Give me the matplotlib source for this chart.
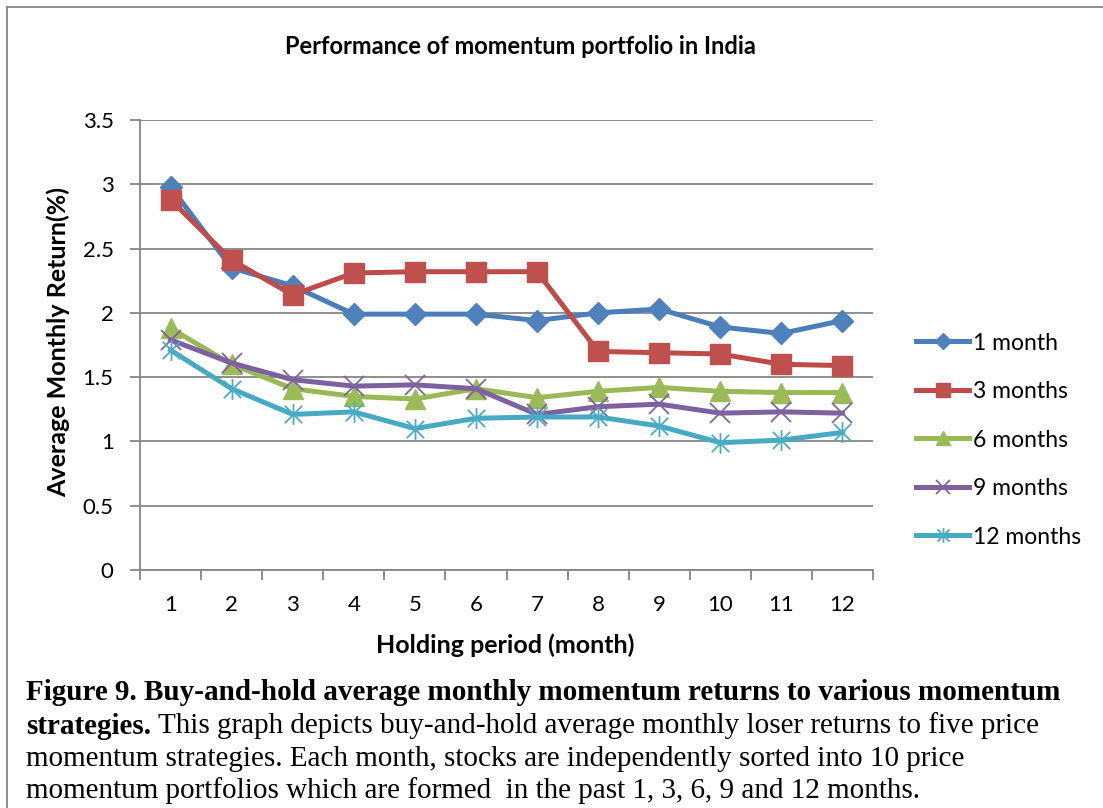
import numpy as np
import matplotlib.pyplot as plt
from matplotlib.lines import Line2D
from matplotlib.path import Path

# holding period (months) and the five momentum portfolio series
periods = list(range(1, 13))
ret_1m = [2.98, 2.35, 2.21, 1.99, 1.99, 1.99, 1.94, 2.00, 2.03, 1.89, 1.84, 1.94]
ret_3m = [2.88, 2.41, 2.14, 2.31, 2.32, 2.32, 2.32, 1.70, 1.69, 1.68, 1.60, 1.59]
ret_6m = [1.88, 1.60, 1.41, 1.35, 1.33, 1.41, 1.34, 1.39, 1.42, 1.39, 1.38, 1.38]
ret_9m = [1.79, 1.61, 1.48, 1.43, 1.44, 1.41, 1.21, 1.27, 1.29, 1.22, 1.23, 1.22]
ret_12m = [1.71, 1.41, 1.21, 1.23, 1.10, 1.18, 1.19, 1.19, 1.12, 0.99, 1.01, 1.07]
labels = ['1 month', '3 months', '6 months', '9 months', '12 months']
y_ticks = [0, 0.5, 1, 1.5, 2, 2.5, 3, 3.5]
y_tick_labels = ['0', '0.5', '1', '1.5', '2', '2.5', '3', '3.5']

W, H = 1103, 808
chart_font = 'Lato'
serif_font = 'Liberation Serif'

# excel style star marker: x plus vertical bar
star = Path([(-0.5, -0.5), (0.5, 0.5), (-0.5, 0.5), (0.5, -0.5), (0, -0.6), (0, 0.6)],
            [Path.MOVETO, Path.LINETO, Path.MOVETO, Path.LINETO, Path.MOVETO, Path.LINETO])

styles = [
    dict(color='#4A7EBB', marker='D', ms=11, mfc='#4F81BD', mec='#4F81BD'),
    dict(color='#BE4B48', marker='s', ms=14, mfc='#C0504D', mec='#C0504D'),
    dict(color='#98B954', marker='^', ms=14.5, mfc='#9BBB59', mec='#9BBB59'),
    dict(color='#7D60A0', marker='x', ms=14, mew=1.3, mec='#8064A2'),
    dict(color='#46AAC5', marker=star, ms=15, mew=1.3, mfc='none', mec='#4BACC6'),
]
series = [ret_1m, ret_3m, ret_6m, ret_9m, ret_12m]

fig = plt.figure(figsize=(W / 100, H / 100), dpi=100)
ax = fig.add_axes([140 / W, (H - 570) / H, 733 / W, 450 / H])

for vals, lab, st in zip(series, labels, styles):
    ax.plot(periods, vals, lw=3.6, label=lab, zorder=3, **st)

ax.set_xlim(0.5, 12.5)
ax.set_ylim(0, 3.5)
ax.set_yticks(y_ticks)
ax.set_yticklabels(y_tick_labels, fontfamily=chart_font, fontsize=16)
ax.set_xticks(periods)
ax.set_xticklabels([str(p) for p in periods], fontfamily=chart_font, fontsize=16)
ax.set_xticks(np.arange(0.5, 13, 1), minor=True)
ax.tick_params(axis='x', which='major', length=0, pad=18)
ax.tick_params(axis='x', which='minor', length=7, width=1.3, color='#868686', direction='out')
ax.tick_params(axis='y', length=7, width=1.3, color='#868686', direction='out', pad=12)
ax.grid(axis='y', color='#868686', lw=1.3, zorder=0)
ax.set_axisbelow(True)
for s in ['top', 'right']:
    ax.spines[s].set_visible(False)
for s in ['left', 'bottom']:
    ax.spines[s].set_color('#868686')
    ax.spines[s].set_linewidth(1.3)

fig.text(520 / W, 1 - 47 / H, 'Performance of momentum portfolio in India',
         fontfamily=chart_font, fontsize=17, fontweight='bold', ha='center', va='center')
fig.text(58 / W, 1 - 342 / H, 'Average Monthly Return(%)', rotation=90,
         fontfamily=chart_font, fontsize=18, fontweight='bold', ha='center', va='center')
fig.text(505 / W, 1 - 645 / H, 'Holding period (month)',
         fontfamily=chart_font, fontsize=18, fontweight='bold', ha='center', va='center')

leg = ax.legend(loc='center left', bbox_to_anchor=(905 / W, 1 - 440 / H),
                bbox_transform=fig.transFigure, frameon=False, markerscale=0.7,
                prop={'family': chart_font, 'size': 16.5}, handlelength=2.3,
                handletextpad=0.15, labelspacing=1.2, borderpad=0)

# chart border (top and left edges visible)
fig.add_artist(Line2D([7 / W, 1], [1 - 7 / H, 1 - 7 / H], color='#868686', lw=1.3))
fig.add_artist(Line2D([7 / W, 7 / W], [0, 1 - 7 / H], color='#868686', lw=1.3))

# caption
cap_size = 21
fig.text(26 / W, 1 - 692 / H,
         'Figure 9. Buy-and-hold average monthly momentum returns to various momentum',
         fontfamily=serif_font, fontsize=cap_size, fontweight='bold', va='center')
b = fig.text(26 / W, 1 - 726 / H, 'strategies.', fontfamily=serif_font,
             fontsize=cap_size, fontweight='bold', va='center')
fig.canvas.draw()
x1 = b.get_window_extent().x1 / W
fig.text(x1 + 7 / W, 1 - 726 / H,
         'This graph depicts buy-and-hold average monthly loser returns to five price',
         fontfamily=serif_font, fontsize=cap_size, va='center')
fig.text(26 / W, 1 - 759 / H,
         'momentum strategies. Each month, stocks are independently sorted into 10 price',
         fontfamily=serif_font, fontsize=cap_size, va='center')
fig.text(26 / W, 1 - 791 / H,
         'momentum portfolios which are formed  in the past 1, 3, 6, 9 and 12 months.',
         fontfamily=serif_font, fontsize=cap_size, va='center')

fig.savefig('out.png', dpi=100)
